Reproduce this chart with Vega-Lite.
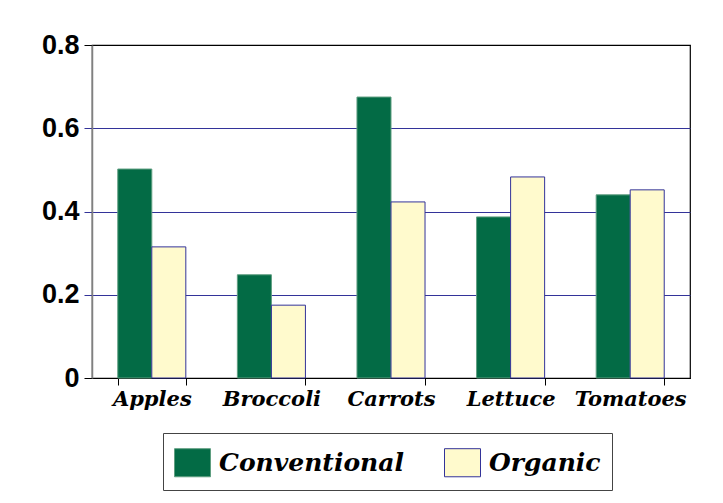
{
  "$schema": "https://vega.github.io/schema/vega-lite/v6.json",
  "width": 598,
  "height": 333,
  "autosize": {"type": "none"},
  "padding": {"left": 92, "top": 45, "right": 33, "bottom": 125},
  "background": "white",
  "config": {
    "view": {"stroke": "black", "strokeWidth": 1.2}
  },
  "data": {
    "values": [
      {"crop": "Apples", "series": "Conventional", "value": 0.502},
      {"crop": "Apples", "series": "Organic", "value": 0.315},
      {"crop": "Broccoli", "series": "Conventional", "value": 0.248},
      {"crop": "Broccoli", "series": "Organic", "value": 0.175},
      {"crop": "Carrots", "series": "Conventional", "value": 0.675},
      {"crop": "Carrots", "series": "Organic", "value": 0.423},
      {"crop": "Lettuce", "series": "Conventional", "value": 0.387},
      {"crop": "Lettuce", "series": "Organic", "value": 0.483},
      {"crop": "Tomatoes", "series": "Conventional", "value": 0.44},
      {"crop": "Tomatoes", "series": "Organic", "value": 0.452}
    ]
  },
  "mark": {"type": "bar", "strokeWidth": 1},
  "encoding": {
    "x": {
      "field": "crop",
      "type": "nominal",
      "sort": null,
      "scale": {"paddingInner": 0.431, "paddingOuter": 0.2155},
      "axis": {
        "title": null,
        "labelAngle": 0,
        "labelFont": "DejaVu Serif",
        "labelFontStyle": "italic",
        "labelFontWeight": "bold",
        "labelFontSize": 21,
        "labelColor": "black",
        "labelPadding": 3,
        "tickBand": "extent",
        "tickColor": "black",
        "tickSize": 7,
        "domainColor": "black",
        "domainWidth": 1.2
      }
    },
    "xOffset": {"field": "series", "type": "nominal"},
    "y": {
      "field": "value",
      "type": "quantitative",
      "scale": {"domain": [0, 0.8], "nice": false},
      "axis": {
        "title": null,
        "values": [0, 0.2, 0.4, 0.6, 0.8],
        "labelExpr": "datum.value == 0 ? '0' : format(datum.value, '.1f')",
        "labelFont": "Liberation Sans",
        "labelFontWeight": "bold",
        "labelFontSize": 27,
        "labelColor": "black",
        "labelPadding": 5,
        "tickSize": 8,
        "tickColor": {"condition": {"test": "datum.value == 0.8 || datum.value == 0", "value": "black"}, "value": "#333399"},
        "grid": true,
        "gridColor": {"condition": {"test": "datum.value == 0.8 || datum.value == 0", "value": "black"}, "value": "#333399"},
        "gridWidth": 1,
        "domainColor": "#808080",
        "domainWidth": 1.5
      }
    },
    "fill": {
      "field": "series",
      "type": "nominal",
      "scale": {"domain": ["Conventional", "Organic"], "range": ["#036b45", "#fffacd"]},
      "legend": {
        "title": null,
        "orient": "none",
        "legendX": 71,
        "legendY": 388,
        "direction": "horizontal",
        "symbolType": "M-1,-0.78H1V0.78H-1Z",
        "symbolSize": 1296,
        "symbolStrokeWidth": 1,
        "labelFont": "DejaVu Serif",
        "labelFontStyle": "italic",
        "labelFontWeight": "bold",
        "labelFontSize": 25,
        "labelColor": "black",
        "labelOffset": 8,
        "labelLimit": 400,
        "columnPadding": 38,
        "padding": 11,
        "strokeColor": "#444444",
        "fillColor": "white"
      }
    },
    "stroke": {
      "field": "series",
      "type": "nominal",
      "scale": {"domain": ["Conventional", "Organic"], "range": ["#5f9e80", "#333399"]}
    }
  }
}
